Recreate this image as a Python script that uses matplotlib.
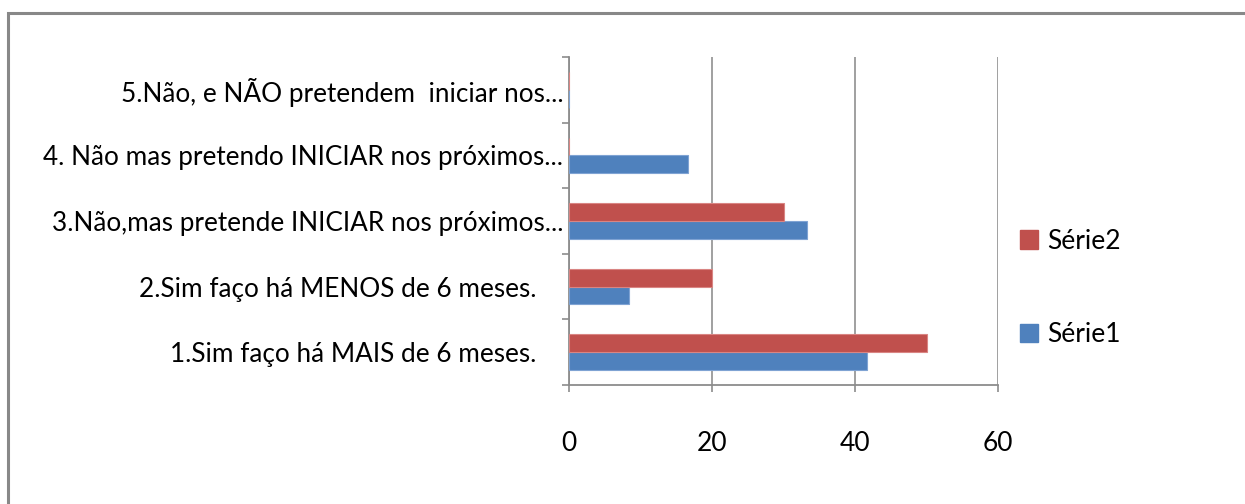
import matplotlib
matplotlib.use("Agg")
import matplotlib.pyplot as plt
import numpy as np
from matplotlib.patches import Rectangle, Patch

plt.rcParams['font.family'] = ['Lato', 'DejaVu Sans']

categories = [
    "1.Sim faço há MAIS de 6 meses.    ",
    "2.Sim faço há MENOS de 6 meses.    ",
    "3.Não,mas pretende INICIAR nos próximos...",
    "4. Não mas pretendo INICIAR nos próximos...",
    "5.Não, e NÃO pretendem  iniciar nos...",
]
serie1 = [41.67, 8.33, 33.33, 16.67, 0]
serie2 = [50, 20, 30, 0, 0]
series_names = ["Série1", "Série2"]
xticks = [0, 20, 40, 60]

blue = "#4F81BD"
red = "#C0504D"
gray = "#8C8C8C"

fig = plt.figure(figsize=(12.45, 5.04), dpi=100)
fig.patches.append(Rectangle((8/1245, -0.1), 1.2, 1 - 13/504 + 0.1,
                             transform=fig.transFigure, fill=False,
                             edgecolor="#888888", linewidth=2.2, zorder=0))

ax = fig.add_axes([569/1245, 1 - 385/504, (998 - 569)/1245, (385 - 57)/504])
y = np.arange(len(categories))
h = 0.27
ax.barh(y - h/2, serie1, height=h, color=blue, edgecolor="#7FA3D3", linewidth=0.8, label=series_names[0], zorder=3)
ax.barh(y + h/2, serie2, height=h, color=red, edgecolor="#D98583", linewidth=0.8, label=series_names[1], zorder=3)

ax.set_xlim(0, 60)
ax.set_ylim(-0.5, len(categories) - 0.5)
ax.set_xticks(xticks)
ax.set_xticklabels([str(v) for v in xticks], fontsize=19)
ax.set_yticks(y)
ax.set_yticklabels(categories, fontsize=18.8)
ax.set_yticks(np.arange(-0.5, len(categories), 1), minor=True)
ax.tick_params(axis='y', which='major', length=0, pad=4)
ax.tick_params(axis='y', which='minor', length=5, color=gray, width=1.2, left=True)
ax.tick_params(axis='x', which='major', length=5, color=gray, width=1.2, pad=28)
ax.grid(axis='x', color="#999999", linewidth=1.3, zorder=0)
for s in ['top', 'right']:
    ax.spines[s].set_visible(False)
for s in ['left', 'bottom']:
    ax.spines[s].set_color(gray)
    ax.spines[s].set_linewidth(1.3)

handles = [Patch(facecolor=red, edgecolor=red, label=series_names[1]),
           Patch(facecolor=blue, edgecolor=blue, label=series_names[0])]
fig.legend(handles=handles, loc='center left', bbox_to_anchor=(996/1245, 1 - 288/504),
           frameon=False, fontsize=19, handlelength=0.7, handleheight=0.7,
           handletextpad=0.35, labelspacing=2.6)

fig.savefig("out.png", dpi=100, facecolor="white")
